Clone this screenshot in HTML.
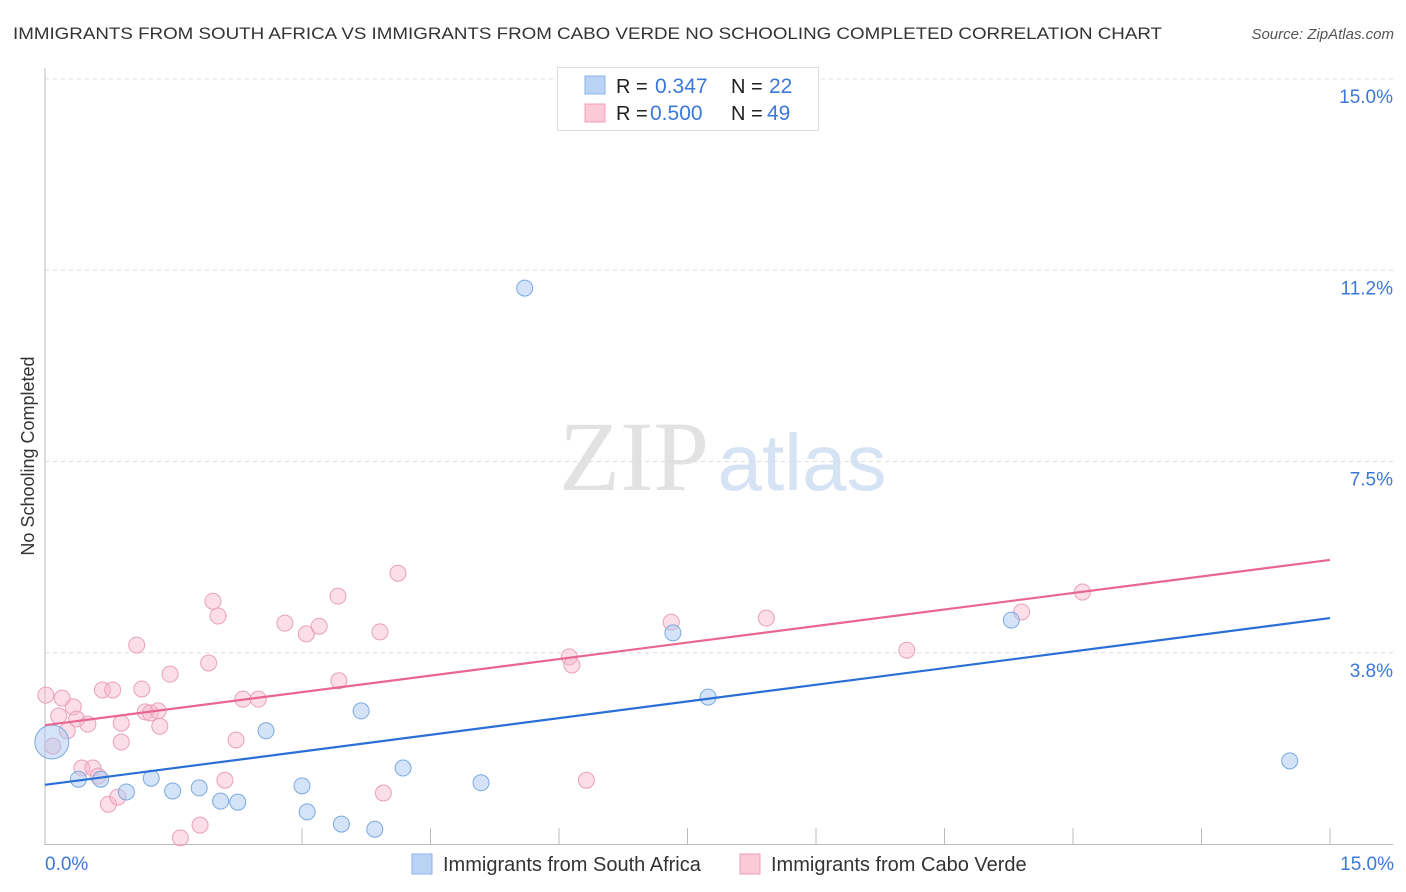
<!DOCTYPE html>
<html><head><meta charset="utf-8"><style>
body{margin:0;background:#fff;font-family:"Liberation Sans",sans-serif}
svg{display:block}
</style></head><body>
<svg id="chart" width="1406" height="892">
<text x="13" y="39" font-size="17" fill="#333" textLength="1149" lengthAdjust="spacingAndGlyphs">IMMIGRANTS FROM SOUTH AFRICA VS IMMIGRANTS FROM CABO VERDE NO SCHOOLING COMPLETED CORRELATION CHART</text>
<text x="1394" y="39" font-size="15" fill="#555" font-style="italic" text-anchor="end">Source: ZipAtlas.com</text>
<g>
<text x="634" y="490" font-size="100" font-family="Liberation Serif,serif" fill="#e2e2e2" text-anchor="middle">ZIP</text>
<text x="802" y="490" font-size="80" fill="#d6e3f5" text-anchor="middle">atlas</text>
</g>
<g id="grid"></g>
<g id="axes"></g>
<g id="marks"></g>
<text transform="translate(34,456) rotate(-90)" font-size="18" fill="#333" text-anchor="middle">No Schooling Completed</text>
<text x="45" y="870" font-size="19" fill="#3b78d8">0.0%</text>
<text x="1394" y="870" font-size="19" fill="#3b78d8" text-anchor="end">15.0%</text>
<g>
<rect x="557.5" y="67.5" width="261" height="63" fill="#fff" stroke="#ddd"/>
<rect x="585" y="76" width="20" height="18" fill="#b9d3f5" stroke="#8ab3e8"/>
<rect x="585" y="104" width="20" height="18" fill="#fbc9d7" stroke="#f0a0b8"/>
<text x="616" y="93" font-size="20" fill="#222">R = </text><text x="655" y="93" font-size="21" fill="#3b78d8">0.347</text>
<text x="731" y="93" font-size="20" fill="#222">N = </text><text x="769" y="93" font-size="21" fill="#3b78d8">22</text>
<text x="616" y="120" font-size="20" fill="#222">R = </text><text x="650" y="120" font-size="21" fill="#3b78d8">0.500</text>
<text x="731" y="120" font-size="20" fill="#222">N = </text><text x="767" y="120" font-size="21" fill="#3b78d8">49</text>
</g>
<g>
<rect x="412" y="854" width="20" height="20" fill="#b9d3f5" stroke="#8ab3e8"/>
<text x="443" y="871" font-size="20" fill="#333">Immigrants from South Africa</text>
<rect x="740" y="854" width="20" height="20" fill="#fbc9d7" stroke="#f0a0b8"/>
<text x="771" y="871" font-size="20" fill="#333">Immigrants from Cabo Verde</text>
</g>
</svg>
<script>
const yTicks=[15.0,11.25,7.5,3.75];
const yTickLabels=["15.0%","11.2%","7.5%","3.8%"];
const xTicks=[3,4.5,6,7.5,9,10.5,12,13.5,15];
const blueX=[0.08,0.39,0.65,0.95,1.24,1.49,1.80,2.05,2.25,2.58,3.00,3.06,3.46,3.85,3.69,4.18,5.09,5.60,7.33,7.74,11.28,14.53];
const blueY=[2.00,1.27,1.27,1.02,1.29,1.04,1.10,0.84,0.82,2.22,1.14,0.63,0.39,0.29,2.61,1.49,1.20,10.90,4.14,2.88,4.39,1.63];
const pinkX=[0.01,0.20,0.33,0.16,0.37,0.50,0.26,0.09,0.67,0.79,1.13,1.07,1.46,1.17,1.23,1.32,1.34,0.89,0.89,1.96,2.02,1.91,2.31,2.49,2.23,2.80,3.05,3.20,3.42,3.43,3.91,4.12,0.43,0.56,0.62,0.74,0.85,2.10,1.81,1.58,3.95,6.12,6.15,6.32,7.31,8.42,10.06,11.40,12.11];
const pinkY=[2.92,2.86,2.69,2.51,2.45,2.35,2.22,1.92,3.02,3.02,3.04,3.90,3.33,2.59,2.57,2.61,2.31,2.37,2.00,4.76,4.47,3.55,2.84,2.84,2.04,4.33,4.12,4.27,4.86,3.20,4.16,5.31,1.49,1.49,1.33,0.78,0.92,1.25,0.37,0.12,1.00,3.67,3.51,1.25,4.35,4.43,3.80,4.55,4.94];
const blueTrend=[1.16,4.43];
const pinkTrend=[2.33,5.57];
const NS="http://www.w3.org/2000/svg";
const X=v=>45+v/15*1285;
const Y=v=>844-v*51.0;
function mk(tag,attrs,parent){const e=document.createElementNS(NS,tag);for(const k in attrs)e.setAttribute(k,attrs[k]);parent.appendChild(e);return e;}
const grid=document.getElementById('grid'),axes=document.getElementById('axes'),marks=document.getElementById('marks');
yTicks.forEach((t,i)=>{
 const l=mk('line',{x1:45,x2:1393,y1:Y(t),y2:Y(t),stroke:'#ddd','stroke-dasharray':'4,4'},grid);
 
 
 const tx=mk('text',{x:1393,y:Y(t)+24,'font-size':19,fill:'#3b78d8','text-anchor':'end'},grid);
 tx.textContent=yTickLabels[i];
 
 
});
const ya=mk('line',{x1:45,x2:45,y1:68,y2:845,stroke:'#bbb'},axes);


const xa=mk('line',{x1:45,x2:1393,y1:844.5,y2:844.5,stroke:'#bbb'},axes);


xTicks.forEach(t=>{
 const l=mk('line',{x1:X(t),x2:X(t),y1:828,y2:844,stroke:'#bbb'},axes);
 
 
});
pinkX.forEach((x,i)=>{
 const c=mk('circle',{cx:X(x),cy:Y(pinkY[i]),r:8,fill:'rgba(248,182,203,0.45)',stroke:'#eaa0ba','stroke-width':1},marks);
 
 
});
blueX.forEach((x,i)=>{
 const c=mk('circle',{cx:X(x),cy:Y(blueY[i]),r:i===0?17:8,fill:'rgba(170,200,240,0.5)',stroke:'#7aaae0','stroke-width':1},marks);
 
 
});
const bt=mk('line',{x1:X(0),x2:X(15),y1:Y(blueTrend[0]),y2:Y(blueTrend[1]),stroke:'#2a6fd6','stroke-width':2.2},marks);


const pt=mk('line',{x1:X(0),x2:X(15),y1:Y(pinkTrend[0]),y2:Y(pinkTrend[1]),stroke:'#e8668f','stroke-width':2.2},marks);


</script>
</body></html>
